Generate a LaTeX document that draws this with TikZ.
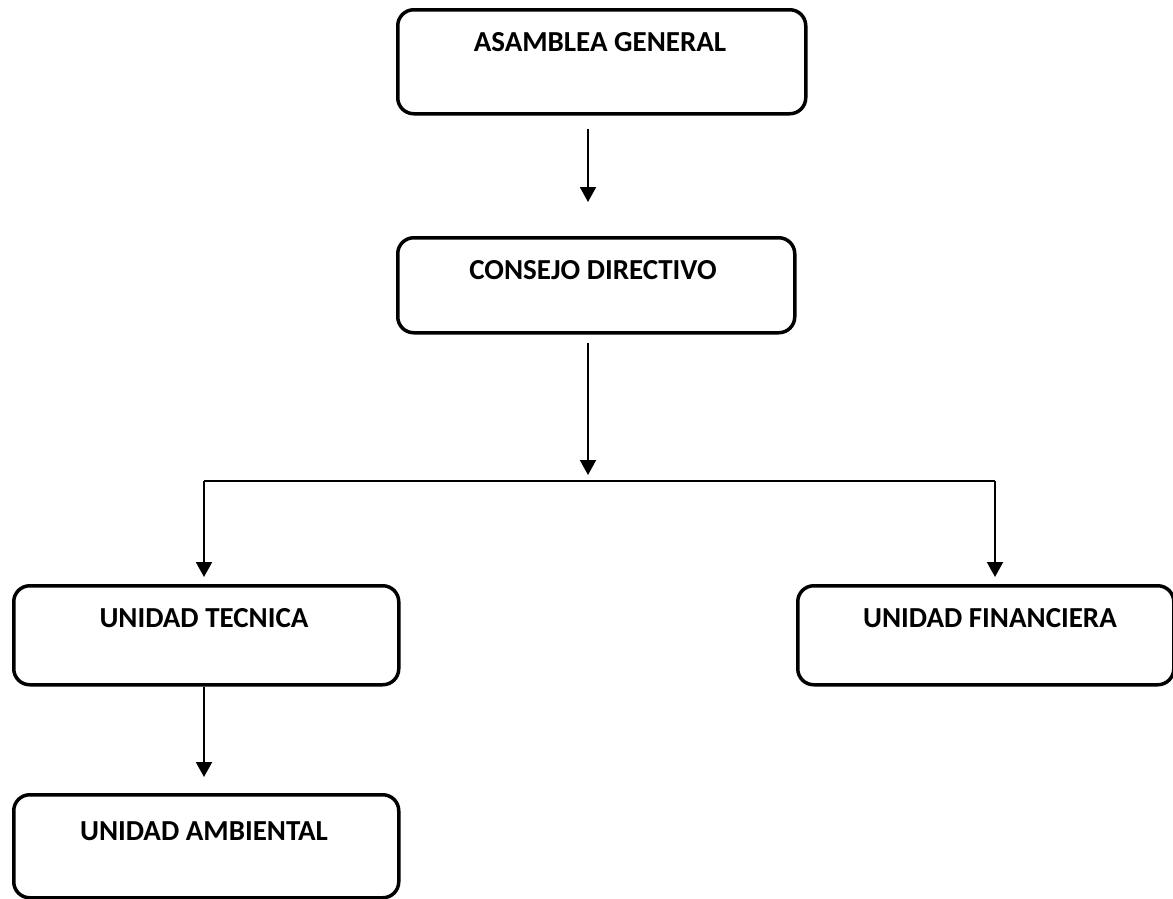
\documentclass[tikz,border=0pt]{standalone}
\usepackage{fontspec}
\setmainfont{Carlito}
\usetikzlibrary{arrows.meta}
\begin{document}
\begin{tikzpicture}[x=1pt,y=-1pt,
  box/.style={draw=black, line width=3.5pt, rounded corners=16pt, anchor=north west, inner sep=0pt},
  lbl/.style={font=\fontsize{29}{34}\selectfont\bfseries, anchor=base, inner sep=0pt},
  conn/.style={draw=black, line width=2pt},
  arr/.style={conn, -{Triangle[width=16pt,length=15pt]}}]
\useasboundingbox (0,0) rectangle (1173,898);
\node[box, minimum width=408, minimum height=104] (asam) at (396,8) {};
\node[box, minimum width=397, minimum height=95] (cons) at (396,236) {};
\node[box, minimum width=385, minimum height=99] (tec) at (12,584) {};
\node[box, minimum width=376, minimum height=99] (fin) at (796,584) {};
\node[box, minimum width=385, minimum height=103] (amb) at (12,793) {};
\node[lbl] (tasam) at (600,51.5) {ASAMBLEA GENERAL};
\node[lbl] (tcons) at (593,279) {CONSEJO DIRECTIVO};
\node[lbl] (ttec) at (204,627) {UNIDAD TECNICA};
\node[lbl] (tfin) at (990,627) {UNIDAD FINANCIERA};
\node[lbl] (tamb) at (204,840) {UNIDAD AMBIENTAL};
\coordinate (hl) at (204,481);
\coordinate (hr) at (995,481);
\coordinate (hub) at (588,481);
\draw[arr] ([yshift=-13pt]asam.south -| hub) -- ([yshift=34pt]cons.north -| hub);
\draw[arr] ([yshift=-8pt]cons.south -| hub) -- ([yshift=6pt]hub);
\draw[conn] (hl) -- (hr);
\draw[arr] (hl) -- ([yshift=7pt]tec.north -| hl);
\draw[arr] (hr) -- ([yshift=7pt]fin.north -| hr);
\draw[arr] (tec.south -| hl) -- ([yshift=16pt]amb.north -| hl);
\end{tikzpicture}
\end{document}
